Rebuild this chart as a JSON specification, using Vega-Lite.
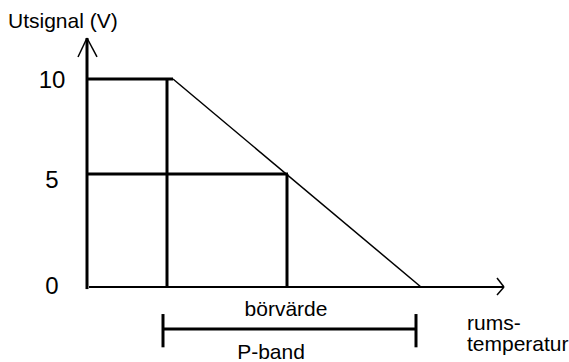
{
  "$schema": "https://vega.github.io/schema/vega-lite/v6.json",
  "width": 569,
  "height": 362,
  "padding": 0,
  "autosize": "none",
  "background": "white",
  "config": {"view": {"stroke": null}},
  "datasets": {
    "thick": [
      {"part": "y-axis", "x": 0, "x2": 0, "y": -0.1, "y2": 11.97},
      {"part": "top", "x": 0, "x2": 8.6, "y": 10, "y2": 10},
      {"part": "v1", "x": 8, "x2": 8, "y": 0, "y2": 10},
      {"part": "mid", "x": 0, "x2": 20.1, "y": 5.43, "y2": 5.43},
      {"part": "v2", "x": 20, "x2": 20, "y": 0, "y2": 5.43},
      {"part": "pband", "x": 7.6, "x2": 32.9, "y": -2.02, "y2": -2.02},
      {"part": "barL", "x": 7.6, "x2": 7.6, "y": -1.3, "y2": -2.9},
      {"part": "barR", "x": 32.9, "x2": 32.9, "y": -1.3, "y2": -2.9}
    ],
    "medium": [
      {"part": "x-axis", "x": 0.2, "x2": 41.7, "y": 0, "y2": 0}
    ],
    "thin": [
      {"part": "diagonal", "x": 8.6, "x2": 33.4, "y": 10, "y2": 0},
      {"part": "arrowY1", "x": -0.9, "x2": 0, "y": 11.06, "y2": 11.97},
      {"part": "arrowY2", "x": 1.0, "x2": 0, "y": 11.06, "y2": 11.97},
      {"part": "arrowX1", "x": 41.0, "x2": 41.7, "y": 0.43, "y2": 0},
      {"part": "arrowX2", "x": 41.0, "x2": 41.7, "y": -0.38, "y2": 0}
    ],
    "ticks": [
      {"label": "10", "x": -3.5, "y": 9.9},
      {"label": "5", "x": -3.5, "y": 5.1},
      {"label": "0", "x": -3.5, "y": 0}
    ],
    "labels": [
      {"label": "börvärde", "x": 19.9, "y": -1.1},
      {"label": "P-band", "x": 18.4, "y": -3.17}
    ],
    "leftlabels": [
      {"label": "Utsignal (V)", "x": -7.9, "y": 12.74},
      {"label": "rums-", "x": 38.0, "y": -1.78},
      {"label": "temperatur", "x": 38.0, "y": -2.79}
    ]
  },
  "layer": [
    {
      "data": {"name": "thick"},
      "mark": {"type": "rule", "color": "black", "strokeWidth": 3},
      "encoding": {
        "x": {"field": "x", "type": "quantitative", "scale": {"domain": [-8.7, 48.2], "nice": false, "zero": false}, "axis": null},
        "x2": {"field": "x2"},
        "y": {"field": "y", "type": "quantitative", "scale": {"domain": [-3.606, 13.798], "nice": false, "zero": false}, "axis": null},
        "y2": {"field": "y2"}
      }
    },
    {
      "data": {"name": "medium"},
      "mark": {"type": "rule", "color": "black", "strokeWidth": 2},
      "encoding": {
        "x": {"field": "x", "type": "quantitative"},
        "x2": {"field": "x2"},
        "y": {"field": "y", "type": "quantitative"},
        "y2": {"field": "y2"}
      }
    },
    {
      "data": {"name": "thin"},
      "mark": {"type": "rule", "color": "black", "strokeWidth": 1.5},
      "encoding": {
        "x": {"field": "x", "type": "quantitative"},
        "x2": {"field": "x2"},
        "y": {"field": "y", "type": "quantitative"},
        "y2": {"field": "y2"}
      }
    },
    {
      "data": {"name": "ticks"},
      "mark": {"type": "text", "font": "Liberation Sans", "fontSize": 24, "align": "center", "baseline": "middle", "color": "black"},
      "encoding": {
        "x": {"field": "x", "type": "quantitative"},
        "y": {"field": "y", "type": "quantitative"},
        "text": {"field": "label"}
      }
    },
    {
      "data": {"name": "labels"},
      "mark": {"type": "text", "font": "Liberation Sans", "fontSize": 21, "align": "center", "baseline": "middle", "color": "black"},
      "encoding": {
        "x": {"field": "x", "type": "quantitative"},
        "y": {"field": "y", "type": "quantitative"},
        "text": {"field": "label"}
      }
    },
    {
      "data": {"name": "leftlabels"},
      "mark": {"type": "text", "font": "Liberation Sans", "fontSize": 21, "align": "left", "baseline": "middle", "color": "black"},
      "encoding": {
        "x": {"field": "x", "type": "quantitative"},
        "y": {"field": "y", "type": "quantitative"},
        "text": {"field": "label"}
      }
    }
  ]
}
